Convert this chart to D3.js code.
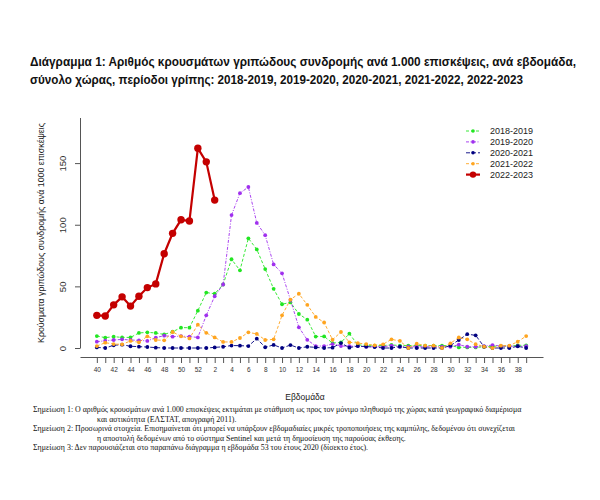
<!DOCTYPE html>
<html>
<head>
<meta charset="utf-8">
<script src="https://cdn.jsdelivr.net/npm/d3@7"></script>
<style>
  body { margin: 0; background: #fff; }
  svg { display: block; }
</style>
</head>
<body>
<div id="chart"></div>
<script>
const weeks = [40, 41, 42, 43, 44, 45, 46, 47, 48, 49, 50, 51, 52,
  1, 2, 3, 4, 5, 6, 7, 8, 9, 10, 11, 12, 13, 14, 15, 16, 17, 18, 19, 20,
  21, 22, 23, 24, 25, 26, 27, 28, 29, 30, 31, 32, 33, 34, 35, 36, 37, 38, 39];

const s2018 = [9.7, 8.4, 9.2, 8.6, 8.6, 12.2, 12.7, 12.2, 11, 13.2, 16.5, 16.5, 30.3,
  45, 44, 51.5, 72, 63, 89, 80, 64, 48, 35.5, 37, 27.6, 23, 9.3, 9.4,
  4, 4.5, 11.6, 2.5, 2.2, 2, 2, 2.5, 2, 2, 2, 2, 2, 2, 2, 0.5, 0.5, 0.5, 1, 1.5, 1.5, 1.5, 2.2, 2.2];

const s2019 = [5.1, 5.9, 6.5, 7, 6.5, 6.2, 5.7, 8.4, 10, 9.2, 9.7, 9.2, 8.6,
  26.5, 42, 51.5, 107.8, 125.6, 130.6, 101.5, 91.5, 67.8, 60.6, 39, 16.8, 6.6, 1.6, 1.6,
  3.2, 1.6, 1.5, 1.5, 1, 1, 1, 2, 1, 1, 1, 1, 1, 1, 1, 2.7, 1, 1, 1.5, 2.4, 1.5, 1.5, 1.5, 1.5];

const s2020 = [0.5, 0, 2.2, 2.7, 1.4, 1.1, 0.8, 0.3, 0, 0, 0, 0, 0,
  0, 0.5, 1, 2, 1.9, 1.6, 7.6, 0.6, 2.5, 0, 2.4, 0, 1, 0.5, 0,
  0.3, 4, 0.3, 1.6, 1.1, 0.8, 0, 0, 1.1, 0, 0, 0, 0, 0, 1.9, 6.5, 11.2, 10.3, 1, 0, 0, 0, 1.4, 0];

const s2021 = [1.6, 4.3, 3.2, 3, 5.7, 4.6, 9.5, 6.5, 6.2, 13, 9.5, 7.8, 18.9,
  12.3, 8.6, 4.9, 4.9, 8.1, 12.7, 11.4, 6.5, 7, 26.5, 39.3, 44, 35, 25.2, 20.7,
  6.7, 13, 4.6, 4, 3.2, 2.2, 3, 7, 5.7, 0, 3.5, 1.9, 1.9, 0, 3.8, 8.5, 7, 3.1, 1.1, 0, 1.9, 1.9, 5.1, 9.7];

const s2022 = [26.5, 26, 35, 41.5, 34, 42, 49, 52, 76.5, 93, 104, 103, 162, 151, 120];

const seasonNames = ["2018-2019", "2019-2020", "2020-2021", "2021-2022", "2022-2023"];
const seasonValues = [s2018, s2019, s2020, s2021, s2022];
const yTicks = [0, 50, 100, 150];

const titleLines = [
  "Διάγραμμα 1: Αριθμός κρουσμάτων γριπώδους συνδρομής ανά 1.000 επισκέψεις, ανά εβδομάδα,",
  "σύνολο χώρας, περίοδοι γρίπης: 2018-2019, 2019-2020, 2020-2021, 2021-2022, 2022-2023"
];
const yTitle = "Κρούσματα γριπώδους συνδρομής ανά 1000 επισκέψεις";
const xTitle = "Εβδομάδα";
const notes = [
  ["Σημείωση 1: Ο αριθμός κρουσμάτων ανά 1.000 επισκέψεις εκτιμάται με στάθμιση ως προς τον μόνιμο πληθυσμό της χώρας κατά γεωγραφικό διαμέρισμα", 0],
  ["και αστικότητα (ΕΛΣΤΑΤ, απογραφή 2011).", 1],
  ["Σημείωση 2: Προσωρινά στοιχεία. Επισημαίνεται ότι μπορεί να υπάρξουν εβδομαδιαίες μικρές τροποποιήσεις της καμπύλης, δεδομένου ότι συνεχίζεται", 0],
  ["η αποστολή δεδομένων από το σύστημα Sentinel και μετά τη δημοσίευση της παρούσας έκθεσης.", 1],
  ["Σημείωση 3: Δεν παρουσιάζεται στο παραπάνω διάγραμμα η εβδομάδα 53 του έτους 2020 (δίσεκτο έτος).", 0]
];

const styles = [
  { color: "#22e622", dash: "3,2", r: 1.9, w: 0.9 },
  { color: "#a030ee", dash: "3,1.5,1,1.5", r: 1.9, w: 0.9 },
  { color: "#000080", dash: "4,2", r: 1.9, w: 0.9 },
  { color: "#ffa520", dash: "3,2", r: 1.9, w: 0.9 },
  { color: "#c40000", dash: null, r: 3.7, w: 2.2 }
];

const width = 600, height = 500;
const svg = d3.select("#chart").append("svg")
  .attr("width", width)
  .attr("height", height)
  .style("font-family", "'Liberation Sans', Arial, sans-serif");

// title
const titleWidths = [546, 493];
svg.selectAll("text.title")
  .data(titleLines)
  .join("text")
  .attr("class", "title")
  .attr("x", 30)
  .attr("y", (d, i) => 66 + i * 18)
  .attr("font-size", 12)
  .attr("font-weight", "bold")
  .attr("fill", "#111")
  .attr("textLength", (d, i) => titleWidths[i])
  .attr("lengthAdjust", "spacingAndGlyphs")
  .text(d => d);

const x = d3.scalePoint()
  .domain(weeks.map(String))
  .range([80, 543])
  .padding(2);

const y = d3.scaleLinear()
  .domain([0, 187])
  .range([348, 117.5]);

// y axis
const yAxis = svg.append("g")
  .attr("transform", "translate(80,0)")
  .call(d3.axisLeft(y).tickValues(yTicks).tickSize(5).tickSizeOuter(0));
yAxis.select(".domain").attr("stroke", "#555");
yAxis.selectAll(".tick line").attr("stroke", "#555");
yAxis.selectAll(".tick text")
  .attr("transform", "rotate(-90)")
  .attr("x", 0)
  .attr("y", -14)
  .attr("dy", 0)
  .attr("text-anchor", "middle")
  .attr("font-size", 9.5)
  .attr("fill", "#333");

// x axis
const xAxis = svg.append("g")
  .attr("transform", "translate(0,357)")
  .call(d3.axisBottom(x)
    .tickSize(6)
    .tickSizeOuter(0)
    .tickFormat((d, i) => i % 2 === 0 ? d : ""));
xAxis.select(".domain").attr("stroke", "#555");
xAxis.selectAll(".tick line").attr("stroke", "#555");
xAxis.selectAll(".tick text")
  .attr("y", 10)
  .attr("font-size", 6.5)
  .attr("fill", "#333");

// axis titles
svg.append("text")
  .attr("transform", "translate(44,233) rotate(-90)")
  .attr("text-anchor", "middle")
  .attr("font-size", 8.5)
  .attr("fill", "#222")
  .attr("textLength", 220)
  .attr("lengthAdjust", "spacingAndGlyphs")
  .text(yTitle);

svg.append("text")
  .attr("x", 305)
  .attr("y", 400)
  .attr("text-anchor", "middle")
  .attr("font-size", 8.5)
  .attr("fill", "#222")
  .text(xTitle);

// series
const line = d3.line()
  .x(d => x(d.week))
  .y(d => y(d.value));

seasonValues.forEach((vals, k) => {
  const pts = vals.map((v, i) => ({ week: String(weeks[i]), value: v }));
  const st = styles[k];
  svg.append("path")
    .datum(pts)
    .attr("fill", "none")
    .attr("stroke", st.color)
    .attr("stroke-width", st.w)
    .attr("stroke-dasharray", st.dash)
    .attr("d", line);
  svg.append("g")
    .selectAll("circle")
    .data(pts)
    .join("circle")
    .attr("cx", d => x(d.week))
    .attr("cy", d => y(d.value))
    .attr("r", st.r)
    .attr("fill", st.color);
});

// legend
const legend = svg.append("g").attr("transform", "translate(466,131)");
seasonNames.forEach((name, k) => {
  const st = styles[k];
  const row = legend.append("g").attr("transform", `translate(0,${k * 10.9})`);
  row.append("line")
    .attr("x1", 0).attr("x2", 14)
    .attr("stroke", st.color)
    .attr("stroke-width", st.w)
    .attr("stroke-dasharray", st.dash);
  row.append("circle")
    .attr("cx", 7)
    .attr("r", k === 4 ? 3.2 : 1.8)
    .attr("fill", st.color);
  row.append("text")
    .attr("x", 24)
    .attr("dy", "0.35em")
    .attr("font-size", 9)
    .attr("fill", "#222")
    .text(name);
});

// notes
const noteG = svg.append("g")
  .style("font-family", "'Liberation Serif', 'Times New Roman', serif");
noteG.selectAll("text")
  .data(notes)
  .join("text")
  .attr("x", d => d[1] ? 97 : 33)
  .attr("y", (d, i) => 412 + i * 9.6)
  .attr("font-size", 7.9)
  .attr("fill", "#111")
  .text(d => d[0]);
</script>
</body>
</html>
